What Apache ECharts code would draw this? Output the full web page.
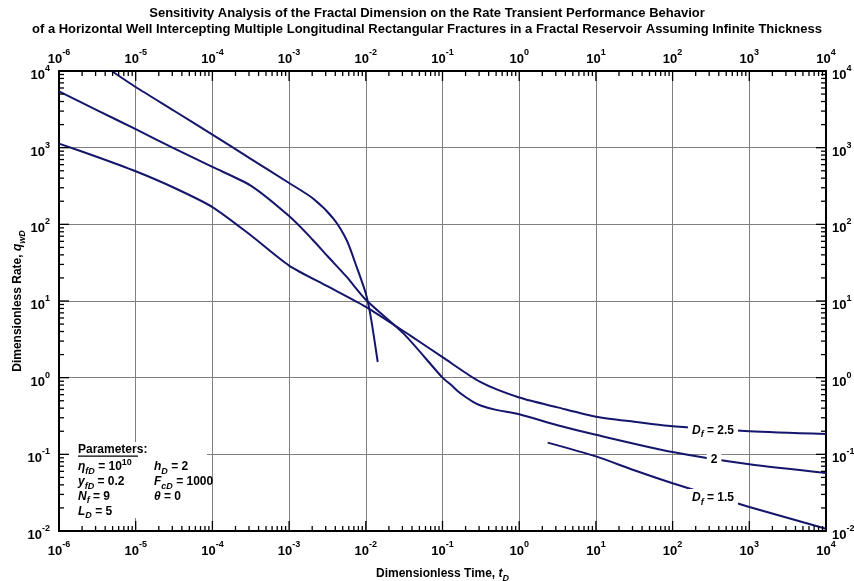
<!DOCTYPE html>
<html>
<head>
<meta charset="utf-8">
<script src="https://cdn.jsdelivr.net/npm/echarts@6/dist/echarts.min.js"></script>
<style>
  html, body { margin: 0; padding: 0; background: #fff; }
  #chart { width: 854px; height: 581px; }
</style>
</head>
<body>
<div id="chart"></div>
<script>
// Axis ranges (decades)
const X_MIN = 1e-6, X_MAX = 1e4;
const Y_MIN = 1e-2, Y_MAX = 1e4;

// D_f = 2.5
const df25T = [1e-6, 3.16e-6, 1e-5, 3.16e-5, 1e-4, 3.16e-4, 1e-3, 3.16e-3, 1e-2, 0.0377, 0.1, 0.31, 1, 3.16, 10, 31.6, 100, 1000, 1e4];
const df25Q = [1130, 757, 492, 300, 168, 72, 29, 15.6, 8.4, 3.56, 1.85, 0.88, 0.55, 0.41, 0.31, 0.266, 0.232, 0.20, 0.184];

// D_f = 2
const df20T = [1e-6, 3.16e-6, 1e-5, 3.16e-5, 1e-4, 3.16e-4, 1e-3, 2e-3, 3.16e-3, 5.64e-3, 1e-2, 0.0316, 0.1, 0.13, 0.16, 0.2, 0.25, 0.32, 0.5, 1, 3.16, 10, 100, 1000, 1e4];
const df20Q = [5430, 3070, 1740, 980, 560, 320, 128, 64, 38.6, 20.6, 10.4, 3.7, 1.0, 0.8, 0.66, 0.56, 0.485, 0.43, 0.38, 0.333, 0.24, 0.18, 0.107, 0.074, 0.057];

// D_f = 1.5 (no solution plotted between the two branches)
const df15T = [4.86e-6, 1e-5, 3.16e-5, 1e-4, 3.16e-4, 1e-3, 2.07e-3, 3.78e-3, 5.64e-3, 7.6e-3, 1e-2, 0.0116, 0.0143, 0.5, 2.35, 10, 31.6, 100, 1000, 1e4];
const df15Q = [10000, 6180, 3030, 1480, 716, 346, 216, 119, 62, 27.8, 12.5, 6.2, 1.6, null, 0.142, 0.094, 0.062, 0.042, 0.0206, 0.0107];

// Curve annotations: [t, q, text]
const curveLabels = [
  [336, 0.212, '{i|D}{sub|f}{b| = 2.5}'],
  [347, 0.089, '{b|2}'],
  [336, 0.0278, '{i|D}{sub|f}{b| = 1.5}']
];

// Parameter block text
const paramsCol1 = ['{i|η}{sub|fD}{b| = 10}{sup|10}', '{i|y}{sub|fD}{b| = 0.2}', '{i|N}{sub|f}{b| = 9}', '{i|L}{sub|D}{b| = 5}'];
const paramsCol2 = ['{i|h}{sub|D}{b| = 2}', '{i|F}{sub|cD}{b| = 1000}', '{i|θ}{b| = 0}'];

const FONT = 'Liberation Sans, Arial, Helvetica, sans-serif';
const LINE_COLOR = '#15156b';

function isDecade(v) {
  const l = Math.log10(v);
  return Math.abs(l - Math.round(l)) < 1e-6;
}

// minor (2..9) and major (decade) tick values
function tickValues(lo, hi) {
  const out = [];
  for (let k = Math.round(Math.log10(lo)); k <= Math.round(Math.log10(hi)); k++) {
    for (let m = 1; m <= 9; m++) {
      const v = m * Math.pow(10, k);
      if (v <= hi * 1.0000001) out.push(v);
    }
  }
  return out;
}
const xTicks = tickValues(X_MIN, X_MAX);
const yTicks = tickValues(Y_MIN, Y_MAX);

function pairs(ts, qs) {
  return ts.map((t, i) => [t, qs[i] == null ? '-' : qs[i]]);
}

const powRich = {
  b: { fontSize: 13, fontWeight: 'bold', color: '#000', fontFamily: FONT, lineHeight: 14, padding: [5, 0, 0, 0], verticalAlign: 'top' },
  s: { fontSize: 9, fontWeight: 'bold', color: '#000', fontFamily: FONT, lineHeight: 10, verticalAlign: 'top' }
};
function powLabel(v) {
  return '{b|10}{s|' + Math.round(Math.log10(v)) + '}';
}

const textRich = {
  b: { fontSize: 12, fontWeight: 'bold', color: '#000', fontFamily: FONT, lineHeight: 14, padding: [3, 0, 0, 0], verticalAlign: 'top' },
  i: { fontSize: 12, fontWeight: 'bold', fontStyle: 'italic', color: '#000', fontFamily: FONT, lineHeight: 14, padding: [3, 0, 0, 0], verticalAlign: 'top' },
  sub: { fontSize: 9, fontWeight: 'bold', fontStyle: 'italic', color: '#000', fontFamily: FONT, lineHeight: 10, padding: [9, 0, 0, 0], verticalAlign: 'top' },
  sup: { fontSize: 9, fontWeight: 'bold', color: '#000', fontFamily: FONT, lineHeight: 9, verticalAlign: 'top' },
  n: { fontSize: 12, fontWeight: 'bold', color: '#000', fontFamily: FONT, lineHeight: 14, padding: [3, 0, 0, 0], verticalAlign: 'top' }
};

const gridLine = { show: true, lineStyle: { color: '#808080', width: 1 } };
const axisLine = { show: true, lineStyle: { color: '#000', width: 2 } };

function curveSeries(name, ts, qs) {
  return {
    name: name,
    type: 'line',
    data: pairs(ts, qs),
    showSymbol: false,
    smooth: 0.25,
    connectNulls: false,
    clip: true,
    z: 12,
    lineStyle: { color: LINE_COLOR, width: 2 },
    itemStyle: { color: LINE_COLOR },
    animation: false
  };
}

function tickSeries(axis) {
  return {
    type: 'custom',
    coordinateSystem: 'cartesian2d',
    xAxisIndex: 0,
    yAxisIndex: 0,
    z: 20,
    silent: true,
    animation: false,
    data: axis === 'x' ? xTicks.map(v => [v, 1]) : yTicks.map(v => [1, v]),
    renderItem: function (params, api) {
      const st = { stroke: '#000', lineWidth: 1.3 };
      if (axis === 'x') {
        const v = api.value(0);
        const len = isDecade(v) ? 10 : 5;
        const b = api.coord([v, Y_MIN]);
        const t = api.coord([v, Y_MAX]);
        return { type: 'group', children: [
          { type: 'line', shape: { x1: b[0], y1: b[1], x2: b[0], y2: b[1] - len }, style: st },
          { type: 'line', shape: { x1: t[0], y1: t[1], x2: t[0], y2: t[1] + len }, style: st }
        ] };
      } else {
        const v = api.value(1);
        const len = isDecade(v) ? 10 : 5;
        const l = api.coord([X_MIN, v]);
        const r = api.coord([X_MAX, v]);
        return { type: 'group', children: [
          { type: 'line', shape: { x1: l[0], y1: l[1], x2: l[0] + len, y2: l[1] }, style: st },
          { type: 'line', shape: { x1: r[0], y1: r[1], x2: r[0] - len, y2: r[1] }, style: st }
        ] };
      }
    }
  };
}

// Parameter block (white panel hides the grid behind it)
const PX = 78, PX2 = 154, PY0 = 449, PDY = 14.8;
const graphics = [
  { id: 'panel', type: 'rect', z: 10, silent: true, shape: { x: 61, y: 442, width: 146, height: 76 }, style: { fill: '#fff' } },
  { id: 'ptitle', type: 'text', z: 11, left: PX, top: PY0 - 5, style: { text: 'Parameters:', fontSize: 12, fontWeight: 'bold', fontFamily: FONT, fill: '#000' } },
  { id: 'pline', type: 'rect', z: 11, silent: true, shape: { x: PX, y: PY0 + 6.5, width: 60, height: 1.2 }, style: { fill: '#000' } }
];
paramsCol1.forEach((t, i) => graphics.push({ id: 'p1' + i, type: 'text', z: 11, left: PX, top: PY0 + PDY * (i + 1) - 6, style: { text: t, rich: textRich } }));
paramsCol2.forEach((t, i) => graphics.push({ id: 'p2' + i, type: 'text', z: 11, left: PX2, top: PY0 + PDY * (i + 1) - 6, style: { text: t, rich: textRich } }));

function logAxis(pos, lo, hi, extra) {
  return Object.assign({
    type: 'log', logBase: 10, min: lo, max: hi, interval: 1, splitNumber: Math.round(Math.log10(hi / lo)),
    position: pos,
    axisLine: axisLine, axisTick: { show: false }, minorTick: { show: false },
    splitLine: { show: false },
    axisLabel: { formatter: powLabel, rich: powRich, margin: 9, showMinLabel: true, showMaxLabel: true, interval: 0 }
  }, extra || {});
}

const chart = echarts.init(document.getElementById('chart'), null, { renderer: 'canvas' });
chart.setOption({
  animation: false,
  backgroundColor: '#fff',
  title: {
    text: 'Sensitivity Analysis of the Fractal Dimension on the Rate Transient Performance Behavior\nof a Horizontal Well Intercepting Multiple Longitudinal Rectangular Fractures in a Fractal Reservoir Assuming Infinite Thickness',
    left: 'center',
    top: 0,
    textStyle: { fontSize: 13, fontWeight: 'bold', fontFamily: FONT, color: '#000', lineHeight: 16 }
  },
  grid: { left: 59, right: 28, top: 71, bottom: 50, containLabel: false, outerBoundsMode: 'none' },
  xAxis: [
    logAxis('bottom', X_MIN, X_MAX, {
      splitLine: gridLine,
      name: '{n|Dimensionless Time, }{i|t}{sub|D}',
      nameLocation: 'middle', nameGap: 34, nameMoveOverlap: false,
      nameTextStyle: { rich: textRich }
    }),
    logAxis('top', X_MIN, X_MAX)
  ],
  yAxis: [
    logAxis('left', Y_MIN, Y_MAX, {
      splitLine: gridLine,
      name: '{n|Dimensionless Rate, }{i|q}{sub|wD}',
      nameLocation: 'middle', nameGap: 36, nameRotate: 90, nameMoveOverlap: false,
      nameTextStyle: { rich: textRich }
    }),
    logAxis('right', Y_MIN, Y_MAX, {
      axisLabel: { formatter: powLabel, rich: powRich, margin: 6, showMinLabel: true, showMaxLabel: true, interval: 0 }
    })
  ],
  graphic: { elements: graphics },
  series: [
    curveSeries('Df = 2.5', df25T, df25Q),
    curveSeries('Df = 2', df20T, df20Q),
    curveSeries('Df = 1.5', df15T, df15Q),
    tickSeries('x'),
    tickSeries('y')
  ]
});

// Curve annotations, placed through the axis scales; white box breaks the line beneath
chart.setOption({
  graphic: {
    elements: curveLabels.map((L, i) => {
      const p = chart.convertToPixel({ xAxisIndex: 0, yAxisIndex: 0 }, [L[0], L[1]]);
      return {
        id: 'clabel' + i, type: 'text', z: 30, x: p[0], y: p[1],
        style: {
          text: L[2], rich: textRich, align: 'center', verticalAlign: 'middle',
          backgroundColor: '#fff', padding: [0, 4, 2, 4]
        }
      };
    })
  }
});
</script>
</body>
</html>
